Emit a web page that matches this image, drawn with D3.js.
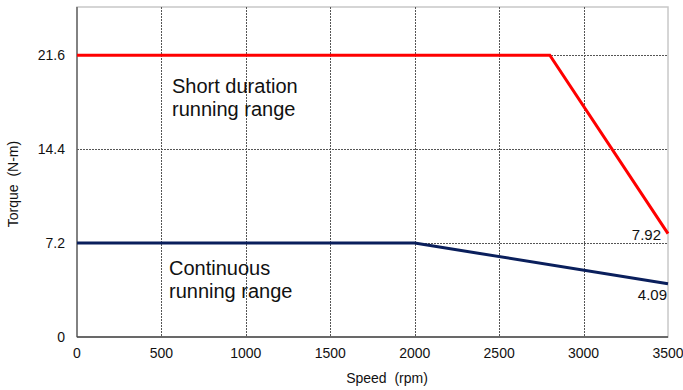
<!DOCTYPE html>
<html><head><meta charset="utf-8">
<script src="https://cdn.jsdelivr.net/npm/d3@7"></script>
<style>body{margin:0;background:#fff}svg{font-family:"Liberation Sans",Arial,sans-serif}text{white-space:pre}</style>
</head><body><svg id="c" width="683" height="390"></svg>
<script>
const xTicks = [0,500,1000,1500,2000,2500,3000,3500];
const yTicks = [0,7.2,14.4,21.6];
const shortSpeed = [0,2800,3500];
const shortTorque = [21.6,21.6,7.92];
const contSpeed = [0,2000,3500];
const contTorque = [7.2,7.2,4.09];

const svg = d3.select("#c");
const L=77,R=668,T=7,B=337;
const x = d3.scaleLinear().domain([0,3500]).range([L,R]);
const y = d3.scaleLinear().domain([0,25.3]).range([B,T]);

// frame
svg.append("rect").attr("x",L).attr("y",T).attr("width",R-L).attr("height",B-T)
  .attr("fill","none").attr("stroke","#c8c8c8").attr("stroke-width",1.5);
// grid
svg.append("g").selectAll("line").data(xTicks.filter(d=>d>0&&d<3500)).join("line")
  .attr("x1",d=>Math.round(x(d))+0.5).attr("x2",d=>Math.round(x(d))+0.5).attr("y1",T).attr("y2",B)
  .attr("stroke","#555").attr("stroke-dasharray","2,1");
svg.append("g").selectAll("line").data(yTicks.filter(d=>d>0)).join("line")
  .attr("y1",d=>Math.round(y(d))+0.5).attr("y2",d=>Math.round(y(d))+0.5).attr("x1",L).attr("x2",R)
  .attr("stroke","#555").attr("stroke-dasharray","2,1");
// axes lines
svg.append("line").attr("x1",L).attr("x2",L).attr("y1",T).attr("y2",B).attr("stroke","#666").attr("stroke-width",1.5);
svg.append("line").attr("x1",L).attr("x2",R).attr("y1",B).attr("y2",B).attr("stroke","#444").attr("stroke-width",1.5);

// tick labels
svg.append("g").selectAll("text").data(xTicks).join("text")
  .attr("x",d=>x(d)).attr("y",358).attr("text-anchor","middle").attr("font-size",14).attr("fill","#111")
  .text(d=>d);
svg.append("g").selectAll("text").data(yTicks).join("text")
  .attr("x",65).attr("y",d=>y(d)+5).attr("text-anchor","end").attr("font-size",14).attr("fill","#111")
  .text(d=>d);

// axis titles
svg.append("text").attr("x",387).attr("y",383).attr("text-anchor","middle").attr("font-size",14).attr("fill","#111").text("Speed  (rpm)");
svg.append("text").attr("transform","translate(18,184) rotate(-90)").attr("text-anchor","middle").attr("font-size",14).attr("fill","#111").text("Torque  (N-m)");

// lines
const line = d3.line().x(d=>x(d[0])).y(d=>y(d[1]));
svg.append("path").datum(shortSpeed.map((s,i)=>[s,shortTorque[i]])).attr("d",line)
  .attr("fill","none").attr("stroke","#ff0000").attr("stroke-width",3);
svg.append("path").datum(contSpeed.map((s,i)=>[s,contTorque[i]])).attr("d",line)
  .attr("fill","none").attr("stroke","#0a1f5c").attr("stroke-width",3);

// annotations
const ann = svg.append("g").attr("font-size",20).attr("fill","#111");
ann.append("text").attr("x",172).attr("y",93).text("Short duration");
ann.append("text").attr("x",172).attr("y",115.5).text("running range");
ann.append("text").attr("x",169).attr("y",275).text("Continuous");
ann.append("text").attr("x",169).attr("y",297.5).text("running range");
svg.append("text").attr("x",661).attr("y",239.5).attr("text-anchor","end").attr("font-size",15).attr("fill","#111").text(shortTorque[2]);
svg.append("text").attr("x",667).attr("y",299.5).attr("text-anchor","end").attr("font-size",15).attr("fill","#111").text(contTorque[2]);
</script></body></html>
